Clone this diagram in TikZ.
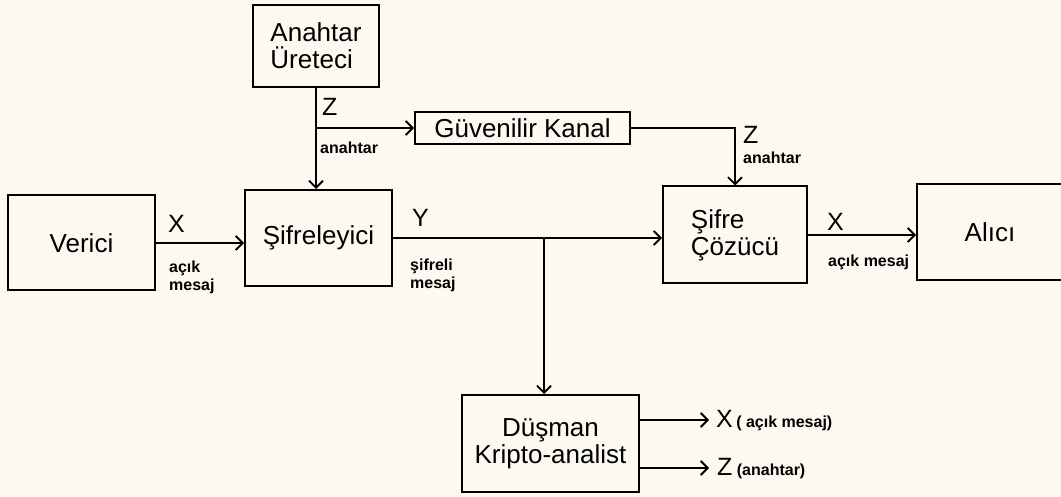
\documentclass[tikz,border=0pt]{standalone}
\usepackage{fontspec}
\setmainfont{Liberation Sans}
\usetikzlibrary{positioning,arrows.meta,calc}
\definecolor{paper}{RGB}{252,250,240}

\begin{document}
\begin{tikzpicture}[x=1pt,y=-1pt,
                every node/.style={font=\fontsize{26}{27}\selectfont},
                box/.style={draw, rectangle, line width=2pt, inner sep=0pt, align=center},
                arr/.style={line width=1.8pt, -{Straight Barb[length=7pt,width=14pt]}},
                lbl/.style={inner sep=0pt, anchor=west, font=\fontsize{25}{25}\selectfont},
                small/.style={inner sep=0pt, anchor=north west, align=left, font=\fontsize{16}{18}\selectfont\bfseries}]
            \useasboundingbox[fill=paper] (0,0) rectangle (1061,497);

            % blocks
            \node[box, minimum width=126pt, minimum height=82pt, align=left] (uret) at (316,46) {Anahtar\\Üreteci};
            \node[box, minimum width=215pt, minimum height=32pt] (kanal) at (522.5,128) {Güvenilir Kanal};
            \node[box, minimum width=147pt, minimum height=95pt] (verici) at (81.5,243) {Verici};
            \node[box, minimum width=147pt, minimum height=96pt] (sifreleyici) at (318.5,238) {Şifreleyici};
            \node[box, minimum width=144pt, minimum height=97pt, align=left] (cozucu) at (735,235) {Şifre\\Çözücü};
            \node[box, minimum width=146pt, minimum height=96pt] (alici) at (990,232) {Alıcı};
            \node[box, minimum width=177pt, minimum height=97pt] (dusman) at (550.5,443.5) {Düşman\\Kripto-analist};

            % connectors
            \draw[arr] (uret.south) -- (uret.south |- sifreleyici.north);
            \draw[arr] (uret.south |- kanal.west) -- (kanal.west);
            \draw[arr] (kanal.east) -| (cozucu.north);
            \draw[arr] (verici.east) -- (verici.east -| sifreleyici.west);
            \draw[arr] (sifreleyici.east) -- (sifreleyici.east -| cozucu.west);
            \draw[arr] (cozucu.east) -- (cozucu.east -| alici.west);
            \coordinate (tapx) at (544,0);
            \coordinate (tap) at (sifreleyici.east -| tapx);
            \draw[arr] (tap) -- (tap |- dusman.north);
            \coordinate (xout) at (709,420);
            \coordinate (zout) at (709,468);
            \draw[arr] (dusman.east |- xout) -- (xout);
            \draw[arr] (dusman.east |- zout) -- (zout);

            % labels
            \node[lbl] (z1) at (322,107) {Z};
            \node[small, anchor=west] (a1) at (320,148) {anahtar};
            \node[lbl] (x1) at (168,224) {X};
            \node[small] (m1) at (169,261) {açık\\mesaj};
            \node[lbl] (y1) at (412,218) {Y};
            \node[small] (m2) at (410,259) {şifreli\\mesaj};
            \node[lbl] (z2) at (743,135) {Z};
            \node[small, anchor=west] (a2) at (743,158) {anahtar};
            \node[lbl] (x2) at (827,222) {X};
            \node[small, anchor=west] (m3) at (828,262) {açık mesaj};
            \node[lbl] (x3) at (716,419) {X};
            \node[small, anchor=base west] (m4) at ([xshift=3pt]x3.base east) {( açık mesaj)};
            \node[lbl] (z3) at (717,467) {Z};
            \node[small, anchor=base west] (m5) at ([xshift=4pt]z3.base east) {(anahtar)};
        \end{tikzpicture}
\end{document}
